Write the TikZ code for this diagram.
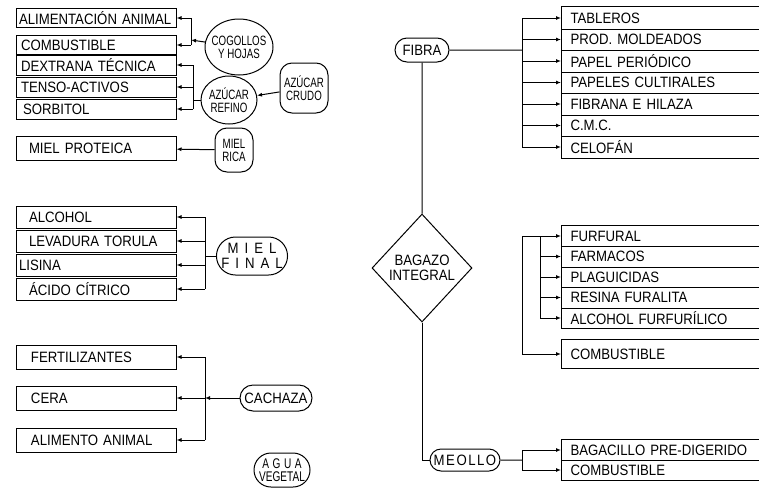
\documentclass[tikz,border=0pt]{standalone}
\usepackage{fontspec}
\setmainfont{Liberation Sans}[FakeStretch=0.88]
\newfontfamily\narrowfont{Liberation Sans}[FakeStretch=0.72]
\usetikzlibrary{arrows.meta,calc,positioning,shapes.geometric,shapes.misc}
\newcommand{\spaced}[2]{{\addfontfeature{LetterSpace=#1}#2}}

\begin{document}
\begin{tikzpicture}[x=1pt,y=-1pt,font=\fontsize{15}{15}\selectfont,line width=1pt,
  arr/.style={-{Latex[length=5pt,width=4pt]}},
  lbox/.style={draw,minimum width=160pt,text width=154pt,align=left,inner sep=0pt,minimum height=#1},
  rrow/.style={anchor=west,text width=180pt,inner xsep=9pt,inner ysep=0pt,minimum height=#1,align=left},
  oval/.style={draw,ellipse,inner xsep=-12pt,inner ysep=-5pt,align=center,font=\narrowfont\fontsize{13.5}{13}\selectfont},
  pill/.style={draw,rounded rectangle,inner sep=0pt,align=center},
  rbox/.style={draw,rounded corners=12pt,inner sep=0pt,align=center,font=\narrowfont\fontsize{13.5}{13}\selectfont}]
  \useasboundingbox (0,0) rectangle (759,490);

  % left column
  \foreach \n/\y/\h/\lab in {
     ali/18/19/{ALIMENTACIÓN ANIMAL}, comb/45/19/{\hspace{2pt}COMBUSTIBLE},
     dex/65/20/{\hspace{2pt}DEXTRANA TÉCNICA}, tens/87/20/{\hspace{2pt}TENSO-ACTIVOS}, sorb/109/20/{\hspace{4pt}SORBITOL},
     mprot/148/24/{\hspace{10pt}MIEL PROTEICA},
     alc/217/22/{\hspace{10pt}ALCOHOL}, lev/241/22/{\hspace{10pt}LEVADURA TORULA}, lis/265/22/{LISINA}, acid/289/22/{\hspace{10pt}ÁCIDO CÍTRICO},
     fert/357/24/{\hspace{12pt}FERTILIZANTES}, cera/398/24/{\hspace{12pt}CERA}, alim/440/24/{\hspace{12pt}ALIMENTO ANIMAL}}
  { \node[lbox=\h pt] (\n) at (96,\y) {\lab}; }

  \node[oval,minimum width=68pt,minimum height=56pt] (cog) at (239,47) {COGOLLOS\\Y HOJAS};
  \node[oval,minimum width=56pt,minimum height=48pt] (ref) at (229,100) {AZÚCAR\\REFINO};
  \node[rbox,minimum width=48pt,minimum height=50pt] (cru) at (304,88) {AZÚCAR\\CRUDO};
  \node[rbox,minimum width=38pt,minimum height=44pt] (rica) at (234,150) {MIEL\\RICA};
  \node[pill,minimum width=62pt,minimum height=38pt] (fin) at (252,256) {\spaced{40}{MIEL}\\\spaced{40}{FINAL}};
  \node[pill,minimum width=72pt,minimum height=26pt] (cach) at (276,398) {CACHAZA};
  \node[pill,minimum width=56pt,minimum height=34pt,font=\narrowfont\fontsize{14}{13}\selectfont] (agua) at (282,470) {\spaced{25}{AGUA}\\VEGETAL};

  \coordinate (jcog) at (191,40);
  \coordinate (jref) at (193,100);
  \coordinate (jfin) at (205,256);
  \coordinate (jcach) at (205,398);
  \draw[arr] (cog) -- (jcog);
  \draw (jcog |- ali.east) -- (jcog |- comb.east);
  \foreach \n in {ali,comb} \draw[arr] (jcog |- \n.east) -- (\n.east);
  \draw (ref) -- (jref);
  \draw (jref |- dex.east) -- (jref |- sorb.east);
  \foreach \n in {dex,tens,sorb} \draw[arr] (jref |- \n.east) -- (\n.east);
  \draw[arr] (cru) -- (ref);
  \draw[arr] (rica) -- (mprot);
  \draw (fin) -- (jfin);
  \draw (jfin |- alc.east) -- (jfin |- acid.east);
  \foreach \n in {alc,lev,lis,acid} \draw[arr] (jfin |- \n.east) -- (\n.east);
  \draw[arr] (cach) -- (jcach);
  \draw (jcach |- fert.east) -- (jcach |- alim.east);
  \foreach \n in {fert,cera,alim} \draw[arr] (jcach |- \n.east) -- (\n.east);

  % centre
  \node[pill,minimum width=54pt,minimum height=24pt] (fib) at (422,50) {FIBRA};
  \node[draw,diamond,inner sep=0pt,minimum width=100pt,minimum height=108pt,align=center] (bag) at (422,268) {BAGAZO\\INTEGRAL};
  \node[pill,minimum width=70pt,minimum height=22pt] (meo) at (465,460) {\spaced{10}{MEOLLO}};
  \draw (fib) -- (bag);
  \draw (bag.south) |- (meo.west);

  % right column
  \foreach \n/\y/\h/\lab in {
     f1/18/21.5/TABLEROS, f2/39.5/21.5/{PROD. MOLDEADOS}, f3/61/21.5/{PAPEL PERIÓDICO},
     f4/82.5/21.5/{PAPELES CULTIRALES}, f5/104/21.5/{FIBRANA E HILAZA}, f6/125.5/21.5/{C.M.C.}, f7/147/21.5/CELOFÁN,
     q1/236/20.5/FURFURAL, q2/256.5/20.5/FARMACOS, q3/277/20.5/PLAGUICIDAS, q4/297.5/20.5/{RESINA FURALITA},
     q5/318/20.5/{ALCOHOL FURFURÍLICO},
     c1/354/28/COMBUSTIBLE,
     m1/450/20/{BAGACILLO PRE-DIGERIDO}, m2/470/20/COMBUSTIBLE}
  { \node[rrow=\h pt] (\n) at (561,\y) {\lab}; }

  % open boxes (cut at the right edge)
  \foreach \a/\b in {f1/f7,q1/q5,c1/c1,m1/m2}
    \draw (\a.north east) -- (\a.north west) -- (\b.south west) -- (\b.south east);
  \foreach \n in {f1,f2,f3,f4,f5,f6,q1,q2,q3,q4,m1}
    \draw (\n.south west) -- (\n.south east);

  \coordinate (jfib) at (522,50);
  \coordinate (jq) at (540,236);
  \coordinate (jmeo) at (522,460);
  \draw (fib) -- (jfib);
  \draw (jfib |- f1.west) -- (jfib |- f7.west);
  \foreach \n in {f1,f2,f3,f4,f5,f6,f7} \draw[arr] (jfib |- \n.west) -- (\n.west);
  \draw (jfib |- q1.west) -- (jfib |- c1.west);
  \draw (jq |- q1.west) -- (jq |- q5.west);
  \foreach \n in {q1,c1} \draw[arr] (jfib |- \n.west) -- (\n.west);
  \foreach \n in {q2,q3,q4,q5} \draw[arr] (jq |- \n.west) -- (\n.west);
  \draw (meo) -- (jmeo);
  \draw (jmeo |- m1.west) -- (jmeo |- m2.west);
  \foreach \n in {m1,m2} \draw[arr] (jmeo |- \n.west) -- (\n.west);
\end{tikzpicture}
\end{document}
